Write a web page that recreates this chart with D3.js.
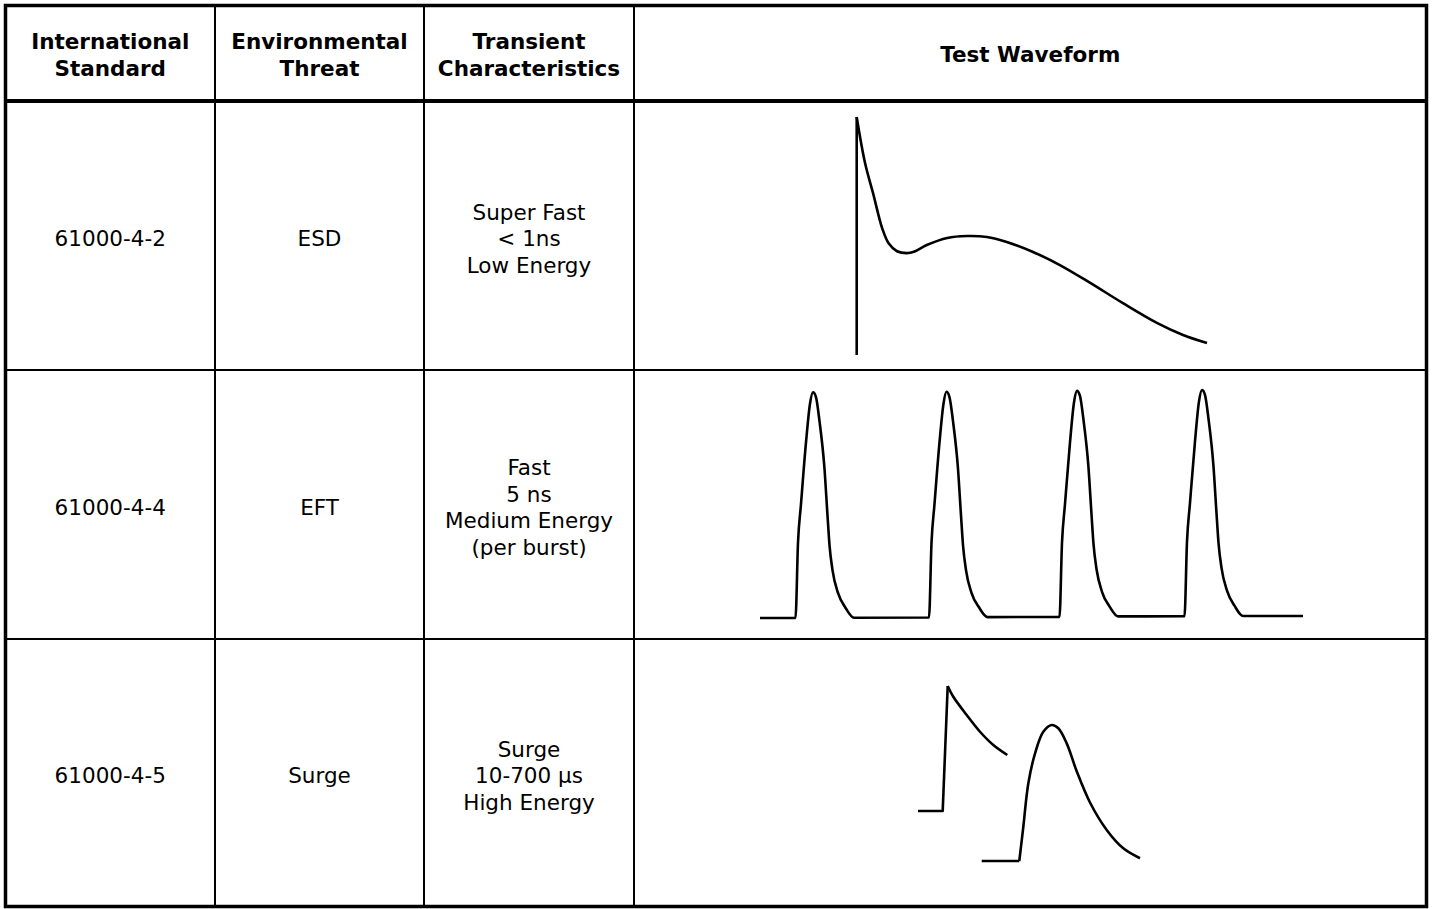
<!DOCTYPE html>
<html>
<head>
<meta charset="utf-8">
<script src="https://cdn.jsdelivr.net/npm/d3@7"></script>
<style>
	body { margin: 0; background: #fff; }
	svg { display: block; }
	text { font-family: "DejaVu Sans", Verdana, sans-serif; fill: #000; }
</style>
</head>
<body>
<svg></svg>
<script>
// table content
var headers = [
	["International", "Standard"],
	["Environmental", "Threat"],
	["Transient", "Characteristics"],
	["Test Waveform"]
];
var standards = ["61000-4-2", "61000-4-4", "61000-4-5"];
var threats = ["ESD", "EFT", "Surge"];
var characteristics = [
	["Super Fast", "< 1ns", "Low Energy"],
	["Fast", "5 ns", "Medium Energy", "(per burst)"],
	["Surge", "10-700 µs", "High Energy"]
];

// ESD waveform (time ns, normalized amplitude)
var esdSpike = [[0, 0], [0, 1]];
var esdDecay = [
	[0, 1], [1.4, 0.81], [2.8, 0.68], [4.4, 0.53], [5.5, 0.468], [6.9, 0.436],
	[8.6, 0.428], [9.8, 0.434], [12, 0.462], [15.5, 0.492],
	[18.9, 0.5], [22.3, 0.496], [25.7, 0.475], [30.2, 0.433], [34.8, 0.378],
	[40, 0.303], [45.6, 0.218], [51.5, 0.134], [55.9, 0.084], [60, 0.05]
];

// EFT burst (time, amplitude %)
var eftTrace = [
	[0, 0], [3.55, 0],
	[3.8, 33], [4.1, 50], [4.6, 77], [5.0, 94], [5.3, 99], [5.59, 97], [5.96, 86],
	[6.44, 66], [6.75, 45], [6.95, 32], [7.25, 21], [7.8, 11], [8.56, 4.4], [9.4, 0.1],
	[16.9, 0.2],
	[17.15, 33], [17.45, 50], [17.95, 77], [18.35, 94], [18.65, 99.2], [18.94, 97], [19.31, 86],
	[19.79, 66], [20.1, 45], [20.3, 32], [20.6, 21], [21.15, 11], [21.91, 4.6], [22.75, 0.4],
	[29.95, 0.5],
	[30.2, 33], [30.5, 50], [31.0, 77], [31.4, 94.5], [31.7, 99.6], [31.99, 97.5], [32.36, 86.5],
	[32.84, 66.5], [33.15, 45.5], [33.35, 32.5], [33.65, 21.5], [34.2, 11.5], [34.96, 5], [35.8, 0.7],
	[42.45, 0.8],
	[42.7, 33.5], [43.0, 50.5], [43.5, 77.5], [43.9, 95], [44.2, 100], [44.49, 98], [44.86, 87],
	[45.34, 67], [45.65, 46], [45.85, 33], [46.15, 22], [46.7, 12], [47.46, 5.3], [48.3, 0.9],
	[54.3, 0.9]
];

// Surge combination wave (time µs, normalized amplitude)
var surgeVoltFront = [[0, 0], [4.94, 0], [5.94, 1]];
var surgeVoltTail = [[5.94, 1], [7.06, 0.914], [9.74, 0.768], [12.4, 0.634], [15.06, 0.528], [17.86, 0.448]];
var surgeCurrBase = [[12.74, 0], [20.26, 0]];
var surgeCurrent = [
	[20.26, 0], [21.06, 0.25], [22.06, 0.57], [23.4, 0.79], [25.06, 0.95], [26.74, 1.0],
	[28.06, 0.976], [29.74, 0.865], [31.74, 0.66], [34.4, 0.43], [37.74, 0.228],
	[41.06, 0.093], [44.4, 0.02]
];

var width = 1432,
	height = 909,
	colEdges = [5.5, 215, 424, 634, 1426.5],
	rowEdges = [5.5, 101, 370, 639, 906.5],
	fontSize = 21.5,
	lineGap = 26.5;

var svg = d3.select("svg").attr("width", width).attr("height", height);

svg.append("rect")
	.attr("width", width)
	.attr("height", height)
	.attr("fill", "#fff");

var grid = svg.append("g").attr("stroke", "#000").attr("fill", "none");

// inner vertical lines
grid.selectAll(".vline")
	.data(colEdges.slice(1, -1))
	.enter()
	.append("line")
	.attr("class", "vline")
	.attr("x1", (d) => d)
	.attr("x2", (d) => d)
	.attr("y1", rowEdges[0])
	.attr("y2", rowEdges[rowEdges.length - 1])
	.attr("stroke-width", 2);

// inner horizontal lines, header divider is heavier
grid.selectAll(".hline")
	.data(rowEdges.slice(1, -1))
	.enter()
	.append("line")
	.attr("class", "hline")
	.attr("x1", colEdges[0])
	.attr("x2", colEdges[colEdges.length - 1])
	.attr("y1", (d) => d)
	.attr("y2", (d) => d)
	.attr("stroke-width", (d, i) => (i === 0 ? 4 : 2));

grid.append("rect")
	.attr("x", colEdges[0])
	.attr("y", rowEdges[0])
	.attr("width", colEdges[colEdges.length - 1] - colEdges[0])
	.attr("height", rowEdges[rowEdges.length - 1] - rowEdges[0])
	.attr("stroke-width", 3.5);

function cellText(lines, col, row, bold) {
	var cx = (colEdges[col] + colEdges[col + 1]) / 2,
		cy = (rowEdges[row] + rowEdges[row + 1]) / 2 + (row === 0 ? 1.5 : 3);
	svg.append("text")
		.attr("text-anchor", "middle")
		.attr("font-size", fontSize)
		.attr("font-weight", bold ? "bold" : "normal")
		.selectAll("tspan")
		.data(lines)
		.enter()
		.append("tspan")
		.attr("x", cx)
		.attr("y", (d, i) => cy + (i - (lines.length - 1) / 2) * lineGap + fontSize * 0.36)
		.text((d) => d);
}

headers.forEach((h, i) => cellText(h, i, 0, true));
standards.forEach((s, i) => cellText([s], 0, i + 1, false));
threats.forEach((s, i) => cellText([s], 1, i + 1, false));
characteristics.forEach((s, i) => cellText(s, 2, i + 1, false));

// waveforms
var waves = svg.append("g")
	.attr("fill", "none")
	.attr("stroke", "#000")
	.attr("stroke-width", 2.6)
	.attr("stroke-linejoin", "round")
	.attr("stroke-linecap", "butt");

function trace(data, x, y, curve) {
	waves.append("path")
		.datum(data)
		.attr("d", d3.line().x((d) => x(d[0])).y((d) => y(d[1])).curve(curve));
}

var smooth = d3.curveCatmullRom.alpha(0.5);

var esdX = d3.scaleLinear().domain([0, 60]).range([856.7, 1207]),
	esdY = d3.scaleLinear().domain([0, 1]).range([355, 117]);
trace(esdSpike, esdX, esdY, d3.curveLinear);
trace(esdDecay, esdX, esdY, smooth);

var eftX = d3.scaleLinear().domain([0, 54.3]).range([760, 1303]),
	eftY = d3.scaleLinear().domain([0, 100]).range([618, 390]);
trace(eftTrace, eftX, eftY, d3.curveMonotoneX);

var surgeX = d3.scaleLinear().domain([0, 45]).range([918, 1143]),
	voltY = d3.scaleLinear().domain([0, 1]).range([811, 686]),
	currY = d3.scaleLinear().domain([0, 1]).range([861, 725]);
trace(surgeVoltFront, surgeX, voltY, d3.curveLinear);
trace(surgeVoltTail, surgeX, voltY, smooth);
trace(surgeCurrBase, surgeX, currY, d3.curveLinear);
trace(surgeCurrent, surgeX, currY, smooth);
</script>
</body>
</html>
